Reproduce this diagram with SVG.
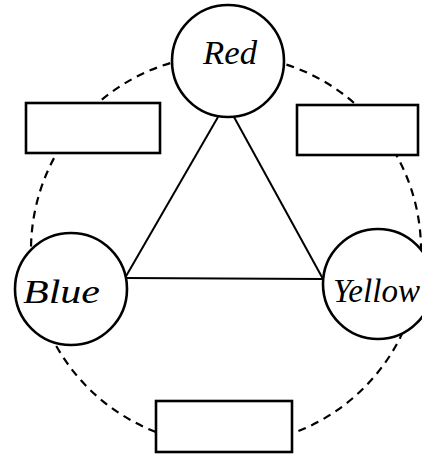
<svg xmlns="http://www.w3.org/2000/svg" width="422" height="455" viewBox="0 0 422 455">
<style>
.bg{fill:#fff}
.dash{fill:none;stroke:#000;stroke-width:2.2;stroke-dasharray:8 6}
.line{fill:none;stroke:#000;stroke-width:2}
.node{fill:#fff;stroke:#000;stroke-width:2.6}
.box{fill:#fff;stroke:#000;stroke-width:2.6}
.lbl{font-family:"Liberation Serif","DejaVu Serif",serif;font-style:italic;font-size:34px;fill:#000}
</style>
<rect class="bg" x="0" y="0" width="422" height="455"/>
<g id="connectors">
<circle class="dash" cx="226" cy="250" r="195"/>
<line class="line" x1="218" y1="117" x2="125" y2="278"/>
<line class="line" x1="234" y1="117" x2="323" y2="279"/>
<line class="line" x1="125" y1="278" x2="323" y2="279"/>
</g>
<g id="node-red">
<circle class="node" cx="228" cy="61" r="56"/>
<text class="lbl" x="230" y="64" text-anchor="middle" textLength="54" lengthAdjust="spacingAndGlyphs">Red</text>
</g>
<g id="node-blue">
<circle class="node" cx="71" cy="289" r="56"/>
<text class="lbl" x="23" y="303" textLength="77" lengthAdjust="spacingAndGlyphs">Blue</text>
</g>
<g id="node-yellow">
<circle class="node" cx="378" cy="284" r="55"/>
<text class="lbl" x="333" y="302" textLength="87" lengthAdjust="spacingAndGlyphs">Yellow</text>
</g>
<g id="box-left">
<rect class="box" x="26" y="103" width="134" height="50"/>
</g>
<g id="box-right">
<rect class="box" x="297" y="105" width="121" height="50"/>
</g>
<g id="box-bottom">
<rect class="box" x="156" y="401" width="136" height="51"/>
</g>
</svg>
